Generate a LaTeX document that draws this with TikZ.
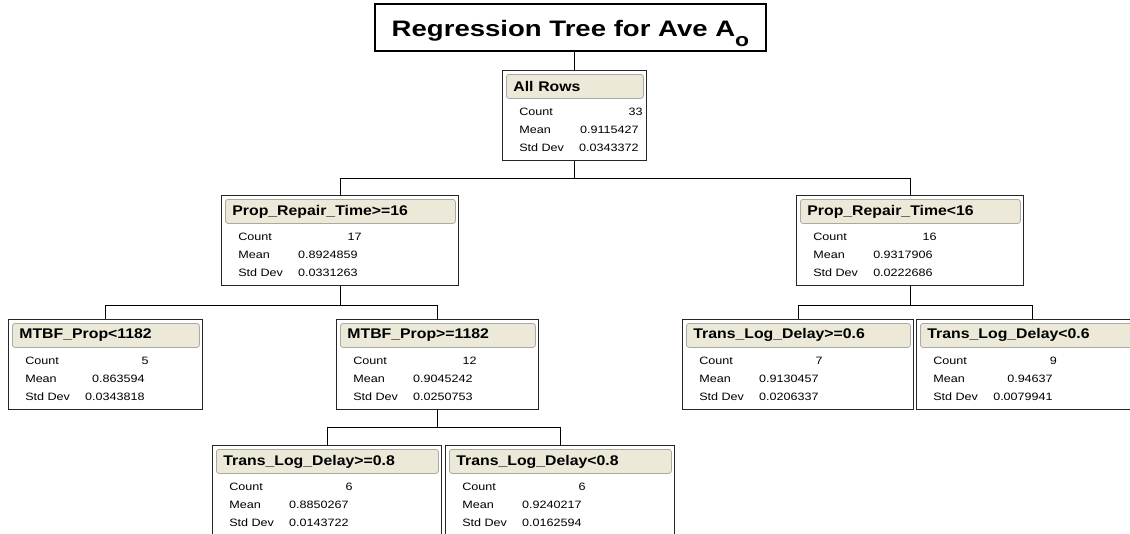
\documentclass[tikz,border=0pt]{standalone}
\usepackage{fontspec}
\setmainfont[FakeStretch=1.18]{Liberation Sans}
\newfontfamily\headfont[FakeStretch=1.13]{Liberation Sans}
\newfontfamily\titlefont[FakeStretch=1.23]{Liberation Sans}
\usepackage{xcolor}
\usepackage{tikz}

\definecolor{headfill}{RGB}{236,233,216}
\definecolor{headline}{RGB}{170,170,160}

\tikzset{
  nodebox/.style={draw=black!85, line width=0.9pt, fill=white, inner sep=0pt, minimum height=67.5pt},
  splithead/.style={draw=headline, line width=0.6pt, fill=headfill, rounded corners=2pt,
    inner xsep=5.25pt, inner ysep=0pt, minimum height=18pt, align=left,
    font=\headfont\fontsize{10.5}{12}\selectfont\bfseries},
  rowlabel/.style={anchor=west, inner sep=0pt, font=\fontsize{8}{9}\selectfont},
  rowvalue/.style={anchor=east, inner sep=0pt, font=\fontsize{8}{9}\selectfont},
  branch/.style={draw=black, line width=0.75pt}
}

% one split of the tree: name, left x, top y, width, split rule, count, mean, std dev
\newcommand{\treebox}[8]{%
  \node[nodebox, minimum width=#4*0.75pt, anchor=north west] (#1) at (#2,#3) {};
  \node[splithead, text width=(#4-21)*0.75pt, anchor=north west] (#1-head) at (#2+4,#3+4) {#5};
  \node[rowlabel] (#1-cl) at (#2+17,#3+42) {Count};
  \node[rowvalue] (#1-cv) at (#2+141,#3+42) {#6};
  \node[rowlabel] (#1-ml) at (#2+17,#3+60) {Mean};
  \node[rowvalue] (#1-mv) at (#2+137,#3+60) {#7};
  \node[rowlabel] (#1-sl) at (#2+17,#3+78) {Std Dev};
  \node[rowvalue] (#1-sv) at (#2+137,#3+78) {#8};
}

\begin{document}
\begin{tikzpicture}[x=0.75pt, y=-0.75pt]
        \useasboundingbox (0,0) rectangle (1130,533);
        \clip (0,0) rectangle (1130,533);

        % Title
        \node[draw, line width=1pt, minimum width=293.25pt, minimum height=35.25pt,
              text height=16pt, text depth=1.8pt,
              font=\titlefont\fontsize{16.8}{20}\selectfont\bfseries] (title) at (570.5,27.5)
              {Regression Tree for Ave A\smash{\raisebox{-7.5pt}{\fontsize{14}{14}\selectfont o}}};

        % Root
        \treebox{all}{502}{70}{144}{All Rows}{33}{0.9115427}{0.0343372}

        % First split
        \treebox{prtge}{221}{195}{237}{Prop\_Repair\_Time>=16}{17}{0.8924859}{0.0331263}
        \treebox{prtlt}{796}{195}{227}{Prop\_Repair\_Time<16}{16}{0.9317906}{0.0222686}

        % Left branch
        \treebox{mtbflt}{8}{319}{194}{MTBF\_Prop<1182}{5}{0.863594}{0.0343818}
        \treebox{mtbfge}{336}{319}{202}{MTBF\_Prop>=1182}{12}{0.9045242}{0.0250753}
        \treebox{tldge8}{212}{445}{229}{Trans\_Log\_Delay>=0.8}{6}{0.8850267}{0.0143722}
        \treebox{tldlt8}{445}{445}{229}{Trans\_Log\_Delay<0.8}{6}{0.9240217}{0.0162594}

        % Right branch
        \treebox{tldge6}{682}{319}{231}{Trans\_Log\_Delay>=0.6}{7}{0.9130457}{0.0206337}
        \treebox{tldlt6}{916}{319}{231}{Trans\_Log\_Delay<0.6}{9}{0.94637}{0.0079941}

        % Branches
        \draw[branch] (all.north) -- (all.north |- title.south);
        \draw[branch] (all.south) -- ++(0,17) -| (prtge.north);
        \draw[branch] (all.south) -- ++(0,17) -| (prtlt.north);
        \draw[branch] (prtge.south) -- ++(0,19) -| (mtbflt.north);
        \draw[branch] (prtge.south) -- ++(0,19) -| (mtbfge.north);
        \draw[branch] (mtbfge.south) -- ++(0,17) -| (tldge8.north);
        \draw[branch] (mtbfge.south) -- ++(0,17) -| (tldlt8.north);
        \draw[branch] (prtlt.south) -- ++(0,19) -| (tldge6.north);
        \draw[branch] (prtlt.south) -- ++(0,19) -| (tldlt6.north);
    \end{tikzpicture}
\end{document}
